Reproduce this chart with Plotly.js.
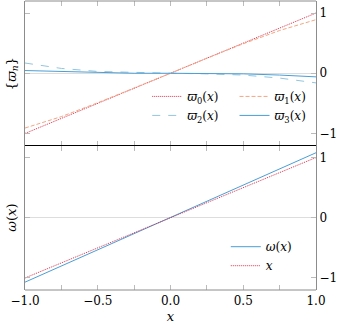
<!DOCTYPE html>
<html>
<head>
<meta charset="utf-8">
<script src="https://cdn.plot.ly/plotly-3.0.1.min.js"></script>
<style>
  html, body { margin: 0; padding: 0; background: #fff; }
  #plot { width: 343px; height: 328px; }
</style>
</head>
<body>
<div id="plot"></div>
<script>
// sample points along x
var xs = [-1, -0.75, -0.5, -0.25, 0, 0.25, 0.5, 0.75, 1];

// top panel: the four varpi curves
var varpi0 = [-1, -0.75, -0.5, -0.25, 0, 0.25, 0.5, 0.75, 1];
var varpi1 = [-0.91, -0.72, -0.49, -0.25, 0, 0.25, 0.49, 0.71, 0.89];
var varpi2 = [0.17, 0.08, 0.03, 0.01, 0, -0.01, -0.03, -0.08, -0.16];
var varpi3 = [0.045, 0.03, 0.01, 0.0, 0, 0, -0.01, -0.03, -0.06];

// bottom panel
var omega = [-1.07, -0.8, -0.53, -0.26, 0, 0.27, 0.54, 0.81, 1.08];
var identity = [-1, -0.75, -0.5, -0.25, 0, 0.25, 0.5, 0.75, 1];

var xTickVals = [-1, -0.5, 0, 0.5, 1];
var xTickText = ['\u22121.0', '\u22120.5', '0.0', '0.5', '1.0'];
var xMinorVals = [-0.75, -0.25, 0.25, 0.75];

var red = '#d9304c';
var orange = '#f4a582';
var lightBlue = '#92c5de';
var blue = '#4a9ed6';
var frame = '#8c8c8c';

var serif = 'DejaVu Serif';
var font = {family: serif, size: 12, color: '#000'};
var titleFont = {family: serif, size: 13, color: '#000'};

var data = [
  {x: xs, y: varpi0, name: '<i>\u03d6</i><sub>0</sub>(<i>x</i>)', xaxis: 'x', yaxis: 'y',
   mode: 'lines', line: {color: red, dash: '1px,1px', width: 1}, legend: 'legend'},
  {x: xs, y: varpi2, name: '<i>\u03d6</i><sub>2</sub>(<i>x</i>)', xaxis: 'x', yaxis: 'y',
   mode: 'lines', line: {color: lightBlue, dash: '8px,8px', width: 1}, legend: 'legend'},
  {x: xs, y: varpi1, name: '<i>\u03d6</i><sub>1</sub>(<i>x</i>)', xaxis: 'x', yaxis: 'y',
   mode: 'lines', line: {color: orange, dash: '4px,2px', width: 1}, legend: 'legend3'},
  {x: xs, y: varpi3, name: '<i>\u03d6</i><sub>3</sub>(<i>x</i>)', xaxis: 'x', yaxis: 'y',
   mode: 'lines', line: {color: blue, width: 1}, legend: 'legend3'},
  {x: xs, y: omega, name: '<i>\u03c9</i>(<i>x</i>)', xaxis: 'x2', yaxis: 'y2',
   mode: 'lines', line: {color: blue, width: 1}, legend: 'legend2'},
  {x: xs, y: identity, name: '<i>x</i>', xaxis: 'x2', yaxis: 'y2',
   mode: 'lines', line: {color: red, dash: '1px,1px', width: 1}, legend: 'legend2'}
];

var xBase = {
  range: [-1, 1],
  showline: true, mirror: 'ticks', linecolor: 'rgba(0,0,0,0)', linewidth: 1,
  ticks: 'inside', ticklen: 5, tickcolor: '#bbb', tickwidth: 1,
  tickvals: xTickVals, ticktext: xTickText, tickfont: font,
  minor: {tickvals: xMinorVals, ticks: 'inside', ticklen: 5, tickcolor: '#bbb', tickwidth: 1, showgrid: false},
  showgrid: false, zeroline: false
};
var yBase = {
  range: [-1.2, 1.2],
  side: 'right',
  showline: true, mirror: 'ticks', linecolor: frame, linewidth: 1,
  ticks: 'inside', ticklen: 5, tickcolor: '#bbb', tickwidth: 1,
  tickvals: [-1, 0, 1], ticktext: ['\u22121', '0', '1'], tickfont: font,
  showgrid: false, zeroline: true, zerolinecolor: '#dddddd', zerolinewidth: 1
};

var legendBase = {
  bgcolor: 'rgba(0,0,0,0)', borderwidth: 0,
  font: {family: serif, size: 12, color: '#000'},
  itemwidth: 30, tracegroupgap: 0,
  xanchor: 'left', yanchor: 'top'
};

var layout = {
  width: 343, height: 328,
  margin: {l: 25, r: 27, t: 1, b: 38},
  paper_bgcolor: '#fff', plot_bgcolor: '#fff',
  font: font,
  showlegend: true,
  xaxis: Object.assign({}, xBase, {anchor: 'y', showticklabels: false}),
  yaxis: Object.assign({}, yBase, {domain: [0.5, 1], anchor: 'x'}),
  xaxis2: Object.assign({}, xBase, {anchor: 'y2', title: {text: '<i>x</i>', font: titleFont, standoff: 4}}),
  yaxis2: Object.assign({}, yBase, {domain: [0, 0.5], anchor: 'x2'}),
  legend: Object.assign({}, legendBase, {x: 0.42, y: 0.72}),
  legend3: Object.assign({}, legendBase, {x: 0.72, y: 0.72}),
  legend2: Object.assign({}, legendBase, {x: 0.69, y: 0.2}),
  shapes: [
    {type: 'line', xref: 'paper', yref: 'paper', x0: 0, x1: 1, y0: 1, y1: 1,
     line: {color: frame, width: 1}},
    {type: 'line', xref: 'paper', yref: 'paper', x0: 0, x1: 1, y0: 0, y1: 0,
     line: {color: frame, width: 1}},
    {type: 'line', xref: 'paper', yref: 'paper', x0: 0, x1: 1, y0: 0.5, y1: 0.5,
     line: {color: '#000', width: 1.2}}
  ],
  annotations: [
    {xref: 'paper', yref: 'paper', x: -0.045, y: 0.75, xanchor: 'center', yanchor: 'middle',
     textangle: -90, showarrow: false, text: '{<i>\u03d6</i><sub><i>n</i></sub>}', font: titleFont},
    {xref: 'paper', yref: 'paper', x: -0.045, y: 0.25, xanchor: 'center', yanchor: 'middle',
     textangle: -90, showarrow: false, text: '<i>\u03c9</i>(<i>x</i>)', font: titleFont}
  ]
};

Plotly.newPlot('plot', data, layout, {displayModeBar: false, staticPlot: true});
</script>
</body>
</html>
